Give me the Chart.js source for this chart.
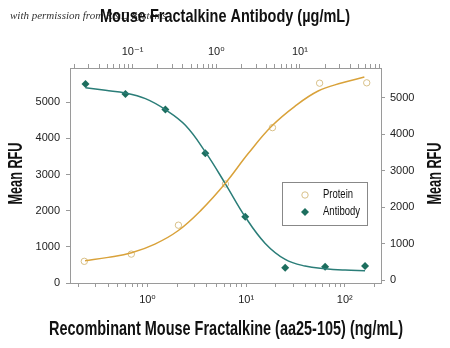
<!DOCTYPE html>
<html>
<head>
<meta charset="utf-8">
<script src="https://cdn.jsdelivr.net/npm/chart.js@4/dist/chart.umd.min.js"></script>
<style>
  html, body { margin: 0; padding: 0; background: #fff; }
  #wrap { width: 450px; height: 348px; position: relative; }
</style>
</head>
<body>
<div id="wrap"><canvas id="chart" width="450" height="348"></canvas></div>
<script>
const FONT = '"Liberation Sans", "DejaVu Sans", sans-serif';

// protein: recombinant mouse fractalkine, ng/mL (bottom axis)
const proteinConc = [0.229, 0.686, 2.06, 6.17, 18.5, 55.6, 167];
const proteinRfu = [600, 800, 1600, 2740, 4300, 5530, 5540];
// fitted curve
const proteinCurveX = [0.233, 0.40, 0.69, 1.19, 2.04, 3.5, 6.13, 10.5, 18.1, 31.2, 53.7, 92.4, 158];
const proteinCurveY = [617, 709, 838, 1077, 1446, 2017, 2753, 3582, 4337, 4890, 5313, 5534, 5700];

// antibody, ug/mL (top axis)
const antibodyConc = [0.0274, 0.0823, 0.247, 0.741, 2.22, 6.67, 20, 60];
const antibodyRfu = [5510, 5230, 4800, 3590, 1830, 420, 450, 470];
const antibodyCurveX = [0.0274, 0.0475, 0.0823, 0.1426, 0.247, 0.428, 0.741, 1.28, 2.22, 3.85, 6.67, 11.5, 20, 34.6, 60];
const antibodyCurveY = [5405, 5331, 5258, 5101, 4797, 4365, 3628, 2753, 1832, 1096, 654, 470, 396, 359, 341];

const bottomMajor = [1, 10, 100];
const bottomLabels = ['10\u2070', '10\u00b9', '10\u00b2'];
const topMajor = [0.1, 1, 10];
const topLabels = ['10\u207b\u00b9', '10\u2070', '10\u00b9'];
const yTicks = [0, 1000, 2000, 3000, 4000, 5000];

const PROTEIN_LINE = '#d9a23a';
const PROTEIN_MARK = '#d8c088';
const AB_LINE = '#2a7d78';
const AB_MARK = '#1c6e5e';
const AXIS = '#9a9a9a';

function logTicks(min, max) {
  const out = [];
  for (let e = -3; e <= 3; e++) {
    for (let m = 1; m <= 9; m++) {
      const v = m * Math.pow(10, e);
      if (v > min * 1.001 && v < max * 0.999) out.push({ value: v });
    }
  }
  return out;
}

function pairs(xs, ys) {
  return xs.map((x, i) => ({ x: x, y: ys[i] }));
}

// squeezed text, a stand-in for the condensed face of the original
function squeezed(c, text, x, y, size, maxW, rot) {
  c.save();
  c.translate(x, y);
  if (rot) c.rotate(rot);
  c.font = 'bold ' + size + 'px ' + FONT;
  c.fillStyle = '#111';
  c.textAlign = 'center';
  c.textBaseline = 'middle';
  c.fillText(text, 0, 0, maxW);
  c.restore();
}

const extras = {
  id: 'extras',
  beforeDraw(chart) {
    const c = chart.ctx;
    c.save();
    c.fillStyle = '#333';
    c.font = 'italic 11px "Liberation Serif", "DejaVu Serif", serif';
    c.textBaseline = 'alphabetic';
    c.fillText('with permission from R&D Systems', 10, 19);
    c.restore();
  },
  afterDraw(chart) {
    const c = chart.ctx;
    const a = chart.chartArea;
    const midY = (a.top + a.bottom) / 2 - 2;
    squeezed(c, 'Mouse Fractalkine Antibody (\u00b5g/mL)', 225, 17, 19, 250);
    squeezed(c, 'Recombinant Mouse Fractalkine (aa25-105) (ng/mL)', 226, 329, 21, 354);
    squeezed(c, 'Mean RFU', 16, midY, 20, 62, -Math.PI / 2);
    squeezed(c, 'Mean RFU', 435, midY, 20, 62, -Math.PI / 2);

    // legend box
    c.save();
    c.strokeStyle = '#888';
    c.lineWidth = 1;
    c.strokeRect(282.5, 182.5, 85, 43);
    c.beginPath();
    c.arc(305, 195, 3.2, 0, Math.PI * 2);
    c.strokeStyle = PROTEIN_MARK;
    c.stroke();
    c.fillStyle = AB_MARK;
    c.beginPath();
    c.moveTo(305, 208);
    c.lineTo(309, 212);
    c.lineTo(305, 216);
    c.lineTo(301, 212);
    c.closePath();
    c.fill();
    c.fillStyle = '#111';
    c.font = '12px ' + FONT;
    c.textBaseline = 'middle';
    c.fillText('Protein', 323, 195, 30);
    c.fillText('Antibody', 323, 212, 37);
    c.restore();
  }
};

const tickFont = { family: FONT, size: 11 };

new Chart(document.getElementById('chart'), {
  type: 'line',
  data: {
    datasets: [
      {
        label: 'Protein fit',
        data: pairs(proteinCurveX, proteinCurveY),
        xAxisID: 'x', yAxisID: 'y',
        borderColor: PROTEIN_LINE, borderWidth: 1.5,
        pointRadius: 0, tension: 0.4, fill: false
      },
      {
        label: 'Antibody fit',
        data: pairs(antibodyCurveX, antibodyCurveY),
        xAxisID: 'x2', yAxisID: 'y',
        borderColor: AB_LINE, borderWidth: 1.5,
        pointRadius: 0, tension: 0.4, fill: false
      },
      {
        label: 'Protein',
        data: pairs(proteinConc, proteinRfu),
        xAxisID: 'x', yAxisID: 'y',
        showLine: false,
        pointStyle: 'circle', pointRadius: 3.2, pointBorderWidth: 1,
        pointBorderColor: PROTEIN_MARK, pointBackgroundColor: 'rgba(255,255,255,0)'
      },
      {
        label: 'Antibody',
        data: pairs(antibodyConc, antibodyRfu),
        xAxisID: 'x2', yAxisID: 'y',
        showLine: false,
        pointStyle: 'rectRot', pointRadius: 4, pointBorderWidth: 0,
        pointBackgroundColor: AB_MARK, pointBorderColor: AB_MARK
      }
    ]
  },
  options: {
    responsive: false,
    animation: false,
    layout: { padding: 0 },
    plugins: { legend: { display: false }, tooltip: { enabled: false } },
    scales: {
      x: {
        type: 'logarithmic', position: 'bottom',
        min: 0.164, max: 233,
        afterBuildTicks: (s) => { s.ticks = logTicks(0.164, 233); },
        afterFit: (s) => { s.height = 65; },
        ticks: {
          autoSkip: false, maxRotation: 0, padding: 6,
          font: tickFont, color: '#222',
          callback: (v) => { const i = bottomMajor.findIndex(m => Math.abs(m - v) < 1e-9 * m); return i >= 0 ? bottomLabels[i] : ''; }
        },
        grid: { drawOnChartArea: false, tickLength: 4, tickColor: AXIS },
        border: { color: AXIS, width: 1 }
      },
      x2: {
        type: 'logarithmic', position: 'top',
        min: 0.0179, max: 93,
        afterBuildTicks: (s) => { s.ticks = logTicks(0.0179, 93); },
        afterFit: (s) => { s.height = 68; },
        ticks: {
          autoSkip: false, maxRotation: 0, padding: 5,
          font: tickFont, color: '#222',
          callback: (v) => { const i = topMajor.findIndex(m => Math.abs(m - v) < 1e-9 * m); return i >= 0 ? topLabels[i] : ''; }
        },
        grid: { drawOnChartArea: false, tickLength: 4, tickColor: AXIS },
        border: { color: AXIS, width: 1 }
      },
      y: {
        type: 'linear', position: 'left',
        min: 0, max: 5950,
        afterBuildTicks: (s) => { s.ticks = yTicks.map(v => ({ value: v })); },
        afterFit: (s) => { s.width = 70; },
        ticks: { padding: 6, font: tickFont, color: '#222', callback: (v) => String(v) },
        grid: { drawOnChartArea: false, tickLength: 4, tickColor: AXIS },
        border: { color: AXIS, width: 1 }
      },
      y2: {
        type: 'linear', position: 'right',
        min: -80, max: 5810,
        afterBuildTicks: (s) => { s.ticks = yTicks.map(v => ({ value: v })); },
        afterFit: (s) => { s.width = 69; },
        ticks: { padding: 5, font: tickFont, color: '#222', callback: (v) => String(v) },
        grid: { drawOnChartArea: false, tickLength: 4, tickColor: AXIS },
        border: { color: AXIS, width: 1 }
      }
    }
  },
  plugins: [extras]
});
</script>
</body>
</html>
